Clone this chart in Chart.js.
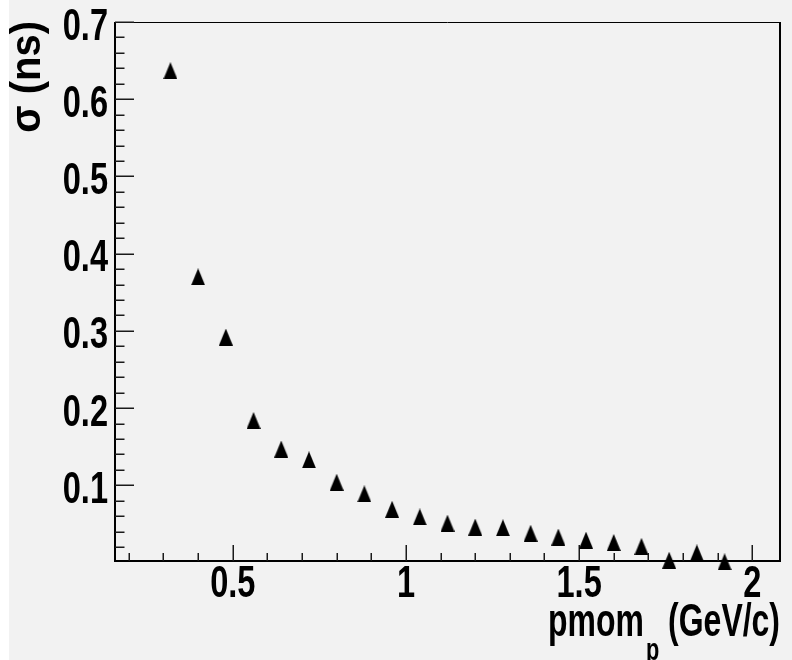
<!DOCTYPE html>
<html>
<head>
<meta charset="utf-8">
<script src="https://cdn.jsdelivr.net/npm/chart.js@4.4.1/dist/chart.umd.min.js"></script>
<style>
  html, body { margin: 0; padding: 0; background: #ffffff; }
  #c { display: block; }
</style>
</head>
<body>
<canvas id="c" width="792" height="660" style="width:792px;height:660px"></canvas>
<script>
// ---- data ----
const momentum = [0.32, 0.40, 0.48, 0.56, 0.64, 0.72, 0.80, 0.88, 0.96, 1.04, 1.12,
                  1.20, 1.28, 1.36, 1.44, 1.52, 1.60, 1.68, 1.76, 1.84, 1.92];
const sigma = [0.637, 0.370, 0.292, 0.184, 0.147, 0.133, 0.104, 0.089, 0.069, 0.059, 0.051,
               0.046, 0.045, 0.038, 0.033, 0.029, 0.026, 0.021, 0.003, 0.0125, 0.001];
const xTickValues = [0.5, 1, 1.5, 2];
const xTickLabels = ['0.5', '1', '1.5', '2'];
const yTickValues = [0.1, 0.2, 0.3, 0.4, 0.5, 0.6, 0.7];
const yTickLabels = ['0.1', '0.2', '0.3', '0.4', '0.5', '0.6', '0.7'];
const xMinorStep = 0.1;
const yMinorStep = 0.02;
const xRange = [0.16, 2.08];
const yRange = [0.002, 0.7];
const yTitle = 'σ (ns)';
const xTitleMain = 'pmom';
const xTitleSub = 'p';
const xTitleUnit = ' (GeV/c)';

// ---- styles ----
const FONT_FAMILY = '"Liberation Sans", Arial, Helvetica, sans-serif';
const TICK_FONT_PX = 44;
const TICK_SX = 0.74;
const YTITLE_FONT_PX = 40;
const YTITLE_SX = 1.05;
const XTITLE_FONT_PX = 47;
const XTITLE_SX = 0.68;
const SUB_FONT_PX = 32;

// triangle marker (ROOT style 22)
const tri = document.createElement('canvas');
tri.width = 14; tri.height = 17;
(function () {
  const t = tri.getContext('2d');
  t.fillStyle = '#000';
  t.beginPath();
  t.moveTo(7, 0);
  t.lineTo(14, 17);
  t.lineTo(0, 17);
  t.closePath();
  t.fill();
})();

function drawText(ctx, str, x, y, px, align, sx, rotate) {
  ctx.save();
  ctx.translate(x, y);
  ctx.scale(sx, 1);
  if (rotate) ctx.rotate(-Math.PI / 2);
  ctx.font = 'bold ' + px + 'px ' + FONT_FAMILY;
  ctx.textAlign = align;
  ctx.textBaseline = 'alphabetic';
  ctx.fillStyle = '#000';
  ctx.fillText(str, 0, 0);
  ctx.restore();
}
function textWidth(ctx, str, px, sx) {
  ctx.save();
  ctx.font = 'bold ' + px + 'px ' + FONT_FAMILY;
  const w = ctx.measureText(str).width * sx;
  ctx.restore();
  return w;
}

const rootStyle = {
  id: 'rootStyle',
  beforeDraw(chart) {
    const ctx = chart.ctx;
    ctx.save();
    ctx.fillStyle = '#ffffff';
    ctx.fillRect(0, 0, chart.width, chart.height);
    ctx.fillStyle = '#f2f2f2';
    ctx.fillRect(9, 0, chart.width - 9, chart.height);
    ctx.restore();
  },
  beforeDatasetsDraw(chart) {
    const ctx = chart.ctx;
    const a = chart.chartArea;
    const xs = chart.scales.x, ys = chart.scales.y;
    ctx.save();
    ctx.strokeStyle = '#000';
    // frame
    ctx.lineWidth = 1;
    ctx.beginPath();
    ctx.moveTo(a.left, a.top + 0.5); ctx.lineTo(a.right, a.top + 0.5);
    ctx.stroke();
    ctx.lineWidth = 2;
    ctx.beginPath();
    ctx.moveTo(a.right, a.top); ctx.lineTo(a.right, a.bottom);
    ctx.moveTo(a.left, a.top); ctx.lineTo(a.left, a.bottom + 1);
    ctx.moveTo(a.left - 1, a.bottom); ctx.lineTo(a.right + 1, a.bottom);
    ctx.stroke();
    // ticks
    ctx.lineWidth = 1.5;
    ctx.strokeStyle = '#1a1a1a';
    ctx.beginPath();
    for (let v = yMinorStep; v <= yRange[1] + 1e-9; v += yMinorStep) {
      const y = Math.round(ys.getPixelForValue(v)) + 0.25;
      const isMajor = yTickValues.some(t => Math.abs(t - v) < 1e-6);
      ctx.moveTo(a.left, y); ctx.lineTo(a.left + (isMajor ? 19 : 9.5), y);
    }
    for (let v = 0.2; v <= xRange[1] + 1e-9; v += xMinorStep) {
      const x = Math.round(xs.getPixelForValue(v)) + 0.25;
      const isMajor = xTickValues.some(t => Math.abs(t - v) < 1e-6);
      ctx.moveTo(x, a.bottom); ctx.lineTo(x, a.bottom - (isMajor ? 16 : 8));
    }
    ctx.stroke();
    ctx.restore();
  },
  afterDraw(chart) {
    const ctx = chart.ctx;
    const a = chart.chartArea;
    const xs = chart.scales.x, ys = chart.scales.y;
    // y tick labels
    yTickValues.forEach((v, i) => {
      drawText(ctx, yTickLabels[i], a.left - 7, ys.getPixelForValue(v) + 17.5, TICK_FONT_PX, 'right', TICK_SX);
    });
    // x tick labels
    xTickValues.forEach((v, i) => {
      drawText(ctx, xTickLabels[i], xs.getPixelForValue(v), 597, TICK_FONT_PX, 'center', TICK_SX);
    });
    // y title (rotated, aligned to top)
    drawText(ctx, yTitle, 39.5, a.top - 1, YTITLE_FONT_PX, 'right', YTITLE_SX, true);
    // x title aligned to right end
    const unitW = textWidth(ctx, xTitleUnit, XTITLE_FONT_PX, XTITLE_SX);
    const subW = textWidth(ctx, xTitleSub, SUB_FONT_PX, XTITLE_SX);
    let xr = a.right;
    drawText(ctx, xTitleUnit, xr, 636, XTITLE_FONT_PX, 'right', XTITLE_SX);
    xr -= unitW;
    drawText(ctx, xTitleSub, xr, 660, SUB_FONT_PX, 'right', XTITLE_SX);
    xr -= subW + 2;
    drawText(ctx, xTitleMain, xr, 636, XTITLE_FONT_PX, 'right', XTITLE_SX);
  }
};

new Chart(document.getElementById('c'), {
  type: 'scatter',
  data: {
    datasets: [{
      data: momentum.map((x, i) => ({ x: x, y: sigma[i] })),
      pointStyle: tri,
      pointRadius: 9,
      pointHoverRadius: 9,
      showLine: false,
      clip: false
    }]
  },
  options: {
    responsive: false,
    animation: false,
    devicePixelRatio: 1,
    layout: { padding: { left: 115, top: 22, right: 12, bottom: 99 } },
    plugins: { legend: { display: false }, tooltip: { enabled: false } },
    scales: {
      x: { type: 'linear', min: xRange[0], max: xRange[1], display: false },
      y: { type: 'linear', min: yRange[0], max: yRange[1], display: false }
    }
  },
  plugins: [rootStyle]
});
</script>
</body>
</html>
